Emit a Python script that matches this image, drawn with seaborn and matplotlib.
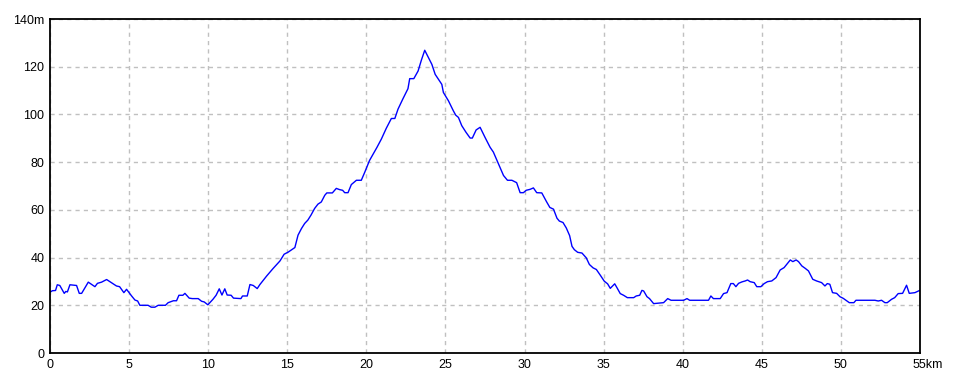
import matplotlib
matplotlib.use("Agg")
import matplotlib.pyplot as plt
import matplotlib.transforms as mtransforms
import seaborn as sns
import pandas as pd

distance_km = [
    0, 0.15, 0.35, 0.46, 0.62, 0.9, 1.0, 1.1, 1.26, 1.68, 1.85, 2.0, 2.42, 2.84, 3.0,
    3.26, 3.58, 3.9, 4.2, 4.4, 4.67, 4.84, 5.16, 5.37, 5.54, 5.68, 6.2, 6.4, 6.63, 6.84,
    7.3, 7.47, 7.8, 8.0, 8.15, 8.4, 8.53, 8.8, 9.0, 9.37, 9.58, 9.75, 9.98, 10.3, 10.5,
    10.7, 10.87, 11.05, 11.2, 11.45, 11.6, 12.07, 12.17, 12.47, 12.64, 12.85, 13.1, 13.27,
    13.7, 14.1, 14.54, 14.8, 15.06, 15.48, 15.68, 15.9, 16.1, 16.3, 16.5, 16.73, 16.94,
    17.15, 17.37, 17.5, 17.85, 18.1, 18.3, 18.5, 18.63, 18.84, 19.05, 19.37, 19.68, 19.9,
    20.2, 20.67, 20.95, 21.26, 21.58, 21.8, 22.0, 22.3, 22.63, 22.74, 23.0, 23.27, 23.48,
    23.69, 23.93, 24.14, 24.35, 24.56, 24.77, 24.87, 25.19, 25.5, 25.65, 25.82, 26.03,
    26.3, 26.56, 26.7, 26.94, 27.19, 27.5, 27.82, 28.03, 28.35, 28.67, 28.92, 29.2, 29.5,
    29.72, 29.93, 30.1, 30.35, 30.56, 30.77, 31.09, 31.4, 31.6, 31.83, 32.05, 32.2, 32.43,
    32.64, 32.85, 33.0, 33.15, 33.36, 33.63, 33.9, 34.1, 34.33, 34.54, 34.8, 35.04, 35.25,
    35.42, 35.7, 35.84, 36.05, 36.26, 36.5, 36.9, 37.06, 37.28, 37.42, 37.53, 37.74, 37.9,
    38.16, 38.79, 39.05, 39.26, 40.06, 40.27, 40.44, 41.63, 41.78, 41.94, 42.37, 42.58,
    42.8, 43.04, 43.2, 43.36, 43.53, 43.74, 43.95, 44.1, 44.26, 44.52, 44.68, 44.94, 45.15,
    45.36, 45.63, 45.9, 46.16, 46.41, 46.58, 46.8, 46.96, 47.17, 47.32, 47.53, 47.74, 47.95,
    48.22, 48.46, 48.78, 48.99, 49.14, 49.3, 49.47, 49.73, 49.94, 50.15, 50.53, 50.82,
    50.95, 52.15, 52.36, 52.57, 52.78, 52.93, 53.2, 53.4, 53.62, 53.9, 54.15, 54.32, 54.68,
    54.9, 55.0,
]
elevation_m = [
    25.5, 26.1, 26.2, 28.6, 28.3, 25, 25.8, 25.6, 28.6, 28.3, 25, 25, 29.7, 27.8, 29.2,
    29.7, 30.8, 29.4, 28.1, 27.8, 25.3, 26.7, 23.9, 22.2, 21.8, 20, 20, 19.2, 19.2, 20,
    20, 21.1, 21.9, 21.9, 24.2, 24.2, 25, 23, 22.8, 22.8, 21.7, 21.4, 20.2, 22.5, 24.2,
    26.9, 24.3, 26.9, 24.3, 24.2, 23, 22.8, 23.9, 23.9, 28.7, 28.3, 27, 28.7,
    32.3, 35.4, 38.6, 41.4, 42.3, 44.2, 49.4, 52.2, 54.3, 55.7, 57.8, 60.6, 62.4,
    63.3, 66.1, 67.1, 67.1, 69, 68.5, 68.2, 67.2, 67.2, 70.6, 72.4, 72.4, 75.8,
    80.7, 86.2, 89.7, 94.2, 98.3, 98.3, 102.2, 106.4, 110.8, 115, 115, 118.2, 122.8,
    126.9, 123.75, 121, 116.8, 114.7, 112.6, 109.2, 105.7, 101.5, 99.7, 98.75, 95.3,
    92.5, 90.1, 90.1, 93.5, 94.6, 90.4, 86.25, 84.2, 79.3, 74.4, 72.4, 72.4, 71.4,
    67.2, 67.2, 68.2, 68.6, 69.2, 67.2, 67.1, 63.3, 61.0, 60.3, 56.5, 55.3, 54.7,
    52.4, 49.2, 44.7, 43.3, 42.2, 41.9, 39.9, 37.1, 35.7, 35, 32.5, 30.1, 29,
    27.1, 29, 27.4, 24.9, 24.2, 23.2, 23.2, 23.9, 24.2, 26.25, 26, 23.6, 22.8,
    20.7, 21.1, 22.8, 22.1, 22.1, 22.8, 22.1, 22.1, 23.9, 22.8, 22.8, 24.9,
    25.3, 29.1, 29.1, 27.8, 29.2, 29.8, 30.2, 30.6, 29.9, 29.5, 27.8, 27.8, 29.1,
    29.9, 30.2, 31.6, 34.8, 35.8, 37.2, 39, 38.3, 39, 38.3, 36.5, 35.5, 34.4,
    30.9, 30.2, 29.5, 28.1, 29.1, 28.8, 25.3, 25, 23.6, 22.9, 21.1, 21.1,
    22.1, 22.1, 21.8, 22.1, 21.1, 21.1, 22.5, 23.2, 24.9, 25, 28.4, 25, 25.3,
    26, 26.3,
]
x_ticks = [0, 5, 10, 15, 20, 25, 30, 35, 40, 45, 50, 55]
x_tick_labels = ["0", "5", "10", "15", "20", "25", "30", "35", "40", "45", "50", "55km"]
y_ticks = [0, 20, 40, 60, 80, 100, 120, 140]
y_tick_labels = ["0", "20", "40", "60", "80", "100", "120", "140m"]

df = pd.DataFrame({"km": distance_km, "m": elevation_m})

sns.set_theme(style="white")
plt.rcParams["font.family"] = ["Liberation Sans", "DejaVu Sans"]

fig = plt.figure(figsize=(9.6, 3.84), dpi=100, facecolor="white")
ax = fig.add_axes([50 / 960, 31 / 384, 870 / 960, 334 / 384])
ax.set_facecolor("white")

sns.lineplot(data=df, x="km", y="m", ax=ax, color="#0000ff", linewidth=1.0,
             estimator=None, sort=False)

ax.set_xlim(0, 55)
ax.set_ylim(0, 140)
ax.set_xticks(x_ticks)
ax.set_xticklabels(x_tick_labels)
ax.set_yticks(y_ticks)
ax.set_yticklabels(y_tick_labels)
ax.set_xlabel("")
ax.set_ylabel("")
ax.tick_params(axis="both", length=0, labelsize=9, colors="black")
ax.tick_params(axis="x", pad=4)
ax.tick_params(axis="y", pad=4)

ax.grid(True, color="#c0c0c0", linestyle=(0, (3, 3)), linewidth=1.0)
ax.set_axisbelow(True)
for s in ax.spines.values():
    s.set_visible(True)
    s.set_color("black")
    s.set_linewidth(1.3)

# shift the last x label so the number stays centred on the tick
last = ax.get_xticklabels()[-1]
last.set_transform(last.get_transform() +
                   mtransforms.ScaledTranslation(0.075, 0, fig.dpi_scale_trans))

fig.savefig("out.png", dpi=100, facecolor="white")
